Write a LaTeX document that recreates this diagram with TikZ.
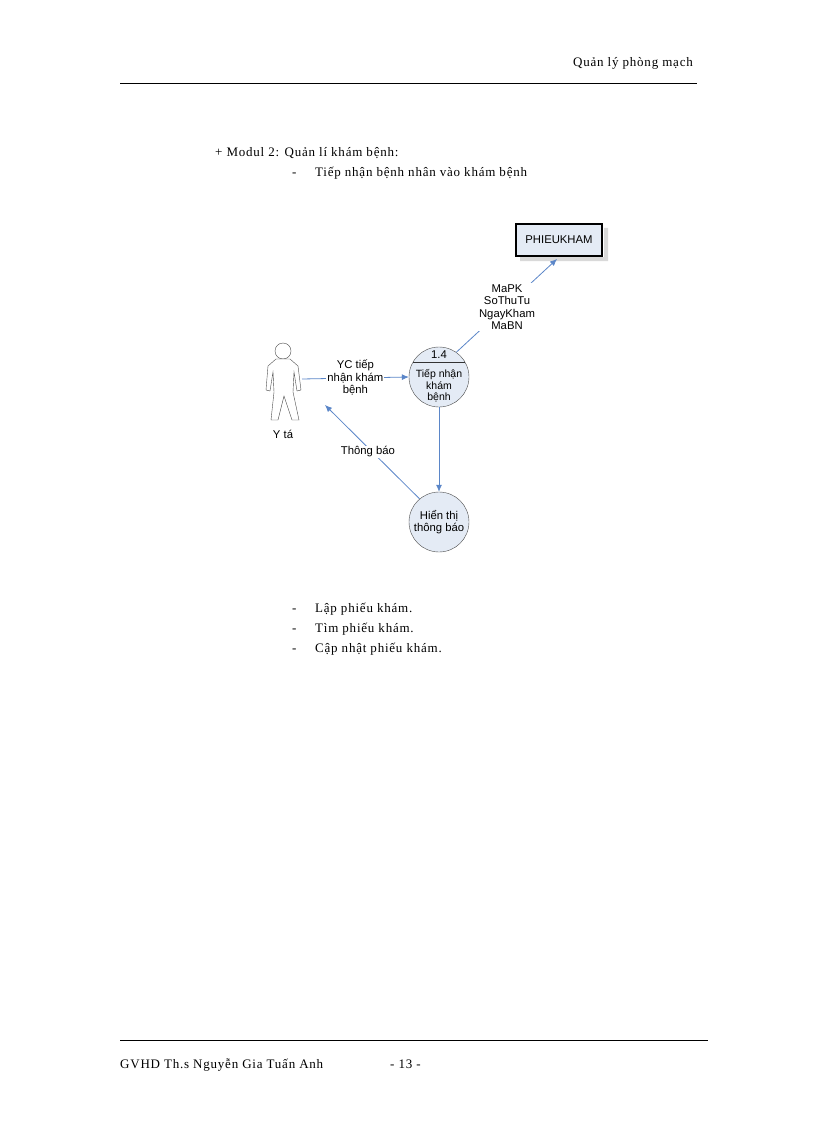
\documentclass[tikz,border=0pt]{standalone}
\usepackage{fontspec}
\setmainfont[LetterSpace=6]{Liberation Serif}
\newfontfamily\arialf{Liberation Sans}
\usetikzlibrary{arrows.meta,calc}
\definecolor{flow}{HTML}{5B86C8}
\definecolor{procfill}{HTML}{E4EBF5}
\tikzset{
  serif/.style={font=\fontsize{13pt}{14pt}\selectfont, anchor=base west, inner sep=0},
  dfont/.style={font=\arialf\fontsize{11.3pt}{12.5pt}\selectfont},
  dlabel/.style={dfont, align=center, fill=white, inner sep=1pt},
  proc/.style={circle, draw=black!70, fill=procfill, minimum size=60pt, inner sep=0},
  flowline/.style={draw=flow, line width=0.8pt, -{Latex[length=7pt,width=6pt]}},
}
\begin{document}
\begin{tikzpicture}[x=1pt,y=-1pt]
\useasboundingbox (0,0) rectangle (816,1123);
% header
\node[serif, anchor=base east] (hdr) at (693,67) {Quản lý phòng mạch};
\draw[line width=0.6pt] (120,83) -- (697,83);
\node[serif] (m2) at (215,157) {+ Modul 2: Quản lí khám bệnh:};
\node[serif] (d1) at (292,177) {-};
\node[serif] (t1) at (315,177) {Tiếp nhận bệnh nhân vào khám bệnh};
% diagram
\fill[black!15] (604,228) rectangle (608,261) (520,257) rectangle (608,261);
\node[draw, line width=2pt, fill=procfill, minimum width=86pt, minimum height=32pt, dfont] (pk) at (559,240) {PHIEUKHAM};
\node[proc] (p14) at (439,377) {};
\draw[black!80] ($(p14.center)+(-26,-15)$) -- ++(52,0);
\node[dfont] (n14) at (439,355) {1.4};
\node[dfont, align=center, font=\arialf\fontsize{10.5pt}{11.5pt}\selectfont] (l14) at (439,386) {Tiếp nhận\\khám\\bệnh};
\node[proc] (ht) at (439,522) {};
\node[dfont, align=center] (lht) at (439,522) {Hiển thị\\thông báo};
% actor
\draw[black!70, fill=white] (283,351) circle (8);
\draw[black!70, fill=white] (276,359) -- (290,359) -- (298,366) -- (301,390) -- (297,391) -- (294,372)
  -- (293,392) -- (299,420) -- (292,420) -- (284,396) -- (278,420) -- (271,420) -- (274,392) -- (273,372)
  -- (270,391) -- (266,390) -- (268,366) -- cycle;
\coordinate (actor) at (302,379);
\node[dfont] (yta) at (283,434) {Y tá};
\coordinate (actorin) at (325,405);
\coordinate (pkin) at (557,259);
% flows
\draw[flowline] (actor) -- (p14.west) node[dlabel, midway] {YC tiếp\\nhận khám\\bệnh};
\draw[flowline] (p14.55) -- (pkin);
\node[dlabel] (lpk) at (507,307) {MaPK\\SoThuTu\\NgayKham\\MaBN};
\draw[flowline] (p14.south) -- (ht.north);
\draw[flowline] (ht.130) -- (actorin);
\node[dlabel] (ltb) at (368,452) {Thông báo};
% bullets
\node[serif] (d2) at (292,612) {-};
\node[serif] (t2) at (315,612) {Lập phiếu khám.};
\node[serif] (d3) at (292,632) {-};
\node[serif] (t3) at (315,632) {Tìm phiếu khám.};
\node[serif] (d4) at (292,652) {-};
\node[serif] (t4) at (315,652) {Cập nhật phiếu khám.};
% footer
\draw[line width=0.6pt] (120,1040) -- (708,1040);
\node[serif] (f1) at (120,1068) {GVHD Th.s Nguyễn Gia Tuấn Anh};
\node[serif] (f2) at (390,1068) {- 13 -};
\end{tikzpicture}
\end{document}
